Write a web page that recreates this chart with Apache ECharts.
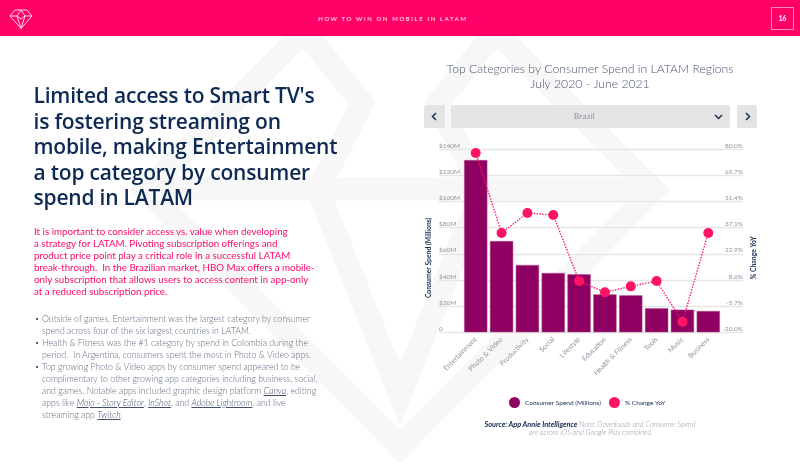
<!DOCTYPE html>
<html lang="en">
<head>
<meta charset="utf-8">
<title>How to win on mobile in LATAM</title>
<script src="https://cdn.jsdelivr.net/npm/echarts@6/dist/echarts.min.js"></script>
<style>
  html, body { margin: 0; padding: 0; background: #fff; }
  #page { position: relative; width: 800px; height: 464px; overflow: hidden; background: #fff; font-family: Lato, "Open Sans", sans-serif; }
  #mark { position: absolute; left: 0; top: 0; }
  #chart { position: absolute; left: 0; top: 0; width: 800px; height: 464px; }
  #bar { position: absolute; left: 0; top: 0; width: 800px; height: 36px; background: #ff0066; }
  #bar .name { position: absolute; left: 243px; width: 300px; top: 15px; text-align: center; color: #ffe0ec; font: 500 6px/7px Lato, sans-serif; letter-spacing: 1.6px; white-space: nowrap; }
  #bar .num { position: absolute; left: 771px; top: 7px; width: 21px; height: 21px; border: 1px solid #ff8fb9; color: #fff; text-align: center; font: 700 6.5px/22px Lato, sans-serif; }
  h1 { position: absolute; left: 33.5px; top: 83px; margin: 0; color: #0e2a54; font: 600 21px/25.6px "Open Sans", sans-serif; white-space: nowrap; letter-spacing: -.2px; }
  .lead { position: absolute; left: 34px; top: 225px; color: #ff0a6c; font: 400 9.75px/12px Lato, sans-serif; white-space: nowrap; }
  ul { position: absolute; left: 34px; top: 312.5px; margin: 0; padding: 0; list-style: none; color: #626b7e; font: 300 8.75px/12px Lato, sans-serif; white-space: nowrap; }
  li { position: relative; padding-left: 8px; }
  li::before { content: ""; position: absolute; left: 2px; top: 5px; width: 2.4px; height: 2.4px; border-radius: 50%; background: #1a2f55; }
  li a { color: #44506a; font-style: italic; text-decoration: underline; }
  .btn { position: absolute; top: 105px; height: 23px; background: #e4e4e4; border-radius: 2px; }
  .btn svg { position: absolute; top: 7px; }
  .btn .val { position: absolute; left: 0; width: 100%; top: 0; text-align: center; color: #8b909e; font: 400 8px/23px Lato, sans-serif; letter-spacing: .3px; }
  .source { position: absolute; left: 440px; width: 300px; top: 420.5px; text-align: center; color: #9096a4; font: italic 300 7.3px/8.8px Lato, sans-serif; white-space: nowrap; }
  .source b { color: #14294f; font-weight: 700; }
</style>
</head>
<body>
<div id="page">
  <!-- large faint gem behind the slide -->
  <svg id="mark" width="800" height="464" fill="none" stroke="#f7f7f7" stroke-width="23" stroke-linejoin="miter">
    <path d="M654 190 L400 447 L146 190 L400 -64 Z"/>
    <path d="M146 189 H654"/>
    <path d="M295 20 L362 103 L318 190 L400 395 L482 190 L438 103 L505 20"/>
  </svg>
  <div id="chart"></div>

  <div id="bar">
    <svg style="position:absolute;left:9px;top:9px" width="24" height="21" fill="none" stroke="#ffd9e8" stroke-width="1">
      <path d="M6 1 H18 L23 7 L12 19.5 L1 7 Z"/>
      <path d="M1 7 L8 7 L12 1 L16 7 L23 7 M8 7 L12 19.5 L16 7 M8 7 L12 10 L16 7"/>
    </svg>
    <div class="name">HOW TO WIN ON MOBILE IN LATAM</div>
    <div class="num">16</div>
  </div>

  <h1>Limited access to Smart TV's<br>is fostering streaming on<br>mobile, making Entertainment<br>a top category by consumer<br>spend in LATAM</h1>

  <div class="lead">It is important to consider access vs. value when developing<br>a strategy for LATAM. Pivoting subscription offerings and<br>product price point play a critical role in a successful LATAM<br>break-through.&nbsp; In the Brazilian market, HBO Max offers a mobile-<br>only subscription that allows users to access content in app-only<br>at a reduced subscription price.</div>

  <ul>
    <li>Outside of games, Entertainment was the largest category by consumer<br>spend across four of the six largest countries in LATAM.</li>
    <li>Health &amp; Fitness was the #1 category by spend in Colombia during the<br>period.&nbsp; In Argentina, consumers spent the most in Photo &amp; Video apps.</li>
    <li>Top growing Photo &amp; Video apps by consumer spend appeared to be<br>complimentary to other growing app categories including business, social,<br>and games. Notable apps included graphic design platform <a>Canva</a>, editing<br>apps like <a>Mojo - Story Editor</a>, <a>InShot</a>, and <a>Adobe Lightroom</a>, and live<br>streaming app <a>Twitch</a>.</li>
  </ul>

  <div class="btn" style="left:424px;width:21px">
    <svg style="left:7px" width="7" height="9" fill="none" stroke="#1a2f55" stroke-width="1.5"><path d="M5 1 L1.5 4.5 L5 8"/></svg>
  </div>
  <div class="btn" style="left:451px;width:279px">
    <div class="val" style="left:-6px">Brazil</div>
    <svg style="left:263px" width="9" height="9" fill="none" stroke="#1a2f55" stroke-width="1.5"><path d="M1 3 L4.5 6.5 L8 3"/></svg>
  </div>
  <div class="btn" style="left:737px;width:20px">
    <svg style="left:7px" width="7" height="9" fill="none" stroke="#1a2f55" stroke-width="1.5"><path d="M2 1 L5.5 4.5 L2 8"/></svg>
  </div>

  <div class="source"><b>Source: App Annie Intelligence</b> Note: Downloads and Consumer Spend<br>are across iOS and Google Play combined</div>
</div>

<script>
// Top categories, Brazil, July 2020 - June 2021
const categories = ['Entertainment', 'Photo & Video', 'Productivity', 'Social', 'Lifestyle', 'Education', 'Health & Fitness', 'Tools', 'Music', 'Business'];
const spendMillions = [131.8, 69.8, 51.5, 45.4, 44.4, 29.0, 28.3, 18.4, 17.3, 16.3];
const changeYoY = [78.0, 34.3, 45.2, 44.1, 8.0, 1.9, 5.1, 8.0, -14.2, 34.3];
const spendTicks = ['0', '$20M', '$40M', '$60M', '$80M', '$100M', '$120M', '$140M'];
const changeTicks = ['-20.0%', '-5.7%', '8.6%', '22.9%', '37.1%', '51.4%', '65.7%', '80.0%'];

const SPEND_NAME = 'Consumer Spend (Millions)';
const CHANGE_NAME = '% Change YoY';
const PLUM = '#8e0062';
const PINK = '#ff1366';
const NAVY = '#1a2f55';
const TICK = '#8d93a1';

const chart = echarts.init(document.getElementById('chart'), null, { width: 800, height: 464 });

const tickLabel = {
  inside: true,
  margin: 0,
  fontFamily: 'Lato',
  fontSize: 6.5,
  color: TICK,
  verticalAlign: 'bottom'
};

chart.setOption({
  animation: false,
  backgroundColor: 'transparent',
  title: {
    text: 'Top Categories by Consumer Spend in LATAM Regions\nJuly 2020 - June 2021',
    left: 585,
    top: 57,
    textAlign: 'center',
    textStyle: { fontFamily: 'Lato', fontWeight: 300, fontSize: 12.2, lineHeight: 14.5, color: '#4a5570' }
  },
  legend: {
    left: 504,
    top: 392,
    itemWidth: 11,
    itemHeight: 11,
    itemGap: 8,
    icon: 'circle',
    data: [
      { name: SPEND_NAME, itemStyle: { borderWidth: 0 } },
      { name: CHANGE_NAME, itemStyle: { borderWidth: 0 } }
    ],
    textStyle: { fontFamily: 'Lato', fontSize: 6.5, color: NAVY }
  },
  // Marks sit in the inner grid; the wider one carries the scales and rules.
  grid: [
    { left: 462.8, width: 258.4, top: 149.3, height: 183, containLabel: false },
    { left: 439, width: 304, top: 149.3, height: 183, containLabel: false }
  ],
  xAxis: [
    {
      type: 'category',
      gridIndex: 0,
      data: categories,
      axisLine: { show: false },
      axisTick: { show: false },
      axisLabel: { rotate: 45, margin: 6, interval: 0, fontFamily: 'Lato', fontSize: 7, color: TICK }
    },
    { type: 'value', gridIndex: 1, min: 0, max: 1, show: false }
  ],
  yAxis: [
    { type: 'value', gridIndex: 0, min: 0, max: 140, show: false },
    { type: 'value', gridIndex: 0, min: -20, max: 80, show: false },
    {
      type: 'value',
      gridIndex: 1,
      position: 'left',
      min: 0,
      max: 140,
      interval: 20,
      name: SPEND_NAME,
      nameLocation: 'middle',
      nameGap: 7,
      nameRotate: 90,
      nameTextStyle: { fontFamily: 'Lato', fontWeight: 700, fontSize: 6.8, color: NAVY, padding: [0, 34, 0, 0] },
      axisLine: { show: false },
      axisTick: { show: false },
      splitLine: { show: true, lineStyle: { color: '#e6e6e6', width: 1.4 } },
      axisLabel: Object.assign({}, tickLabel, { formatter: (v, i) => spendTicks[i] })
    },
    {
      type: 'value',
      gridIndex: 1,
      position: 'right',
      min: -20,
      max: 80,
      interval: 100 / 7,
      name: CHANGE_NAME,
      nameLocation: 'middle',
      nameGap: 7,
      nameRotate: 90,
      nameTextStyle: { fontFamily: 'Lato', fontWeight: 700, fontSize: 6.8, color: NAVY, padding: [0, 34, 0, 0] },
      axisLine: { show: false },
      axisTick: { show: false },
      splitLine: { show: false },
      axisLabel: Object.assign({}, tickLabel, { formatter: (v, i) => changeTicks[i] })
    }
  ],
  series: [
    {
      name: SPEND_NAME,
      type: 'bar',
      xAxisIndex: 0,
      yAxisIndex: 0,
      data: spendMillions,
      barWidth: '90%',
      itemStyle: { color: PLUM, borderColor: '#b0558f', borderWidth: 0.5 }
    },
    {
      name: CHANGE_NAME,
      type: 'line',
      xAxisIndex: 0,
      yAxisIndex: 1,
      data: changeYoY,
      z: 5,
      symbol: 'circle',
      symbolSize: 10,
      lineStyle: { color: PINK, width: 1.4, type: 'dotted' },
      itemStyle: { color: PINK }
    }
  ]
});
</script>
</body>
</html>
